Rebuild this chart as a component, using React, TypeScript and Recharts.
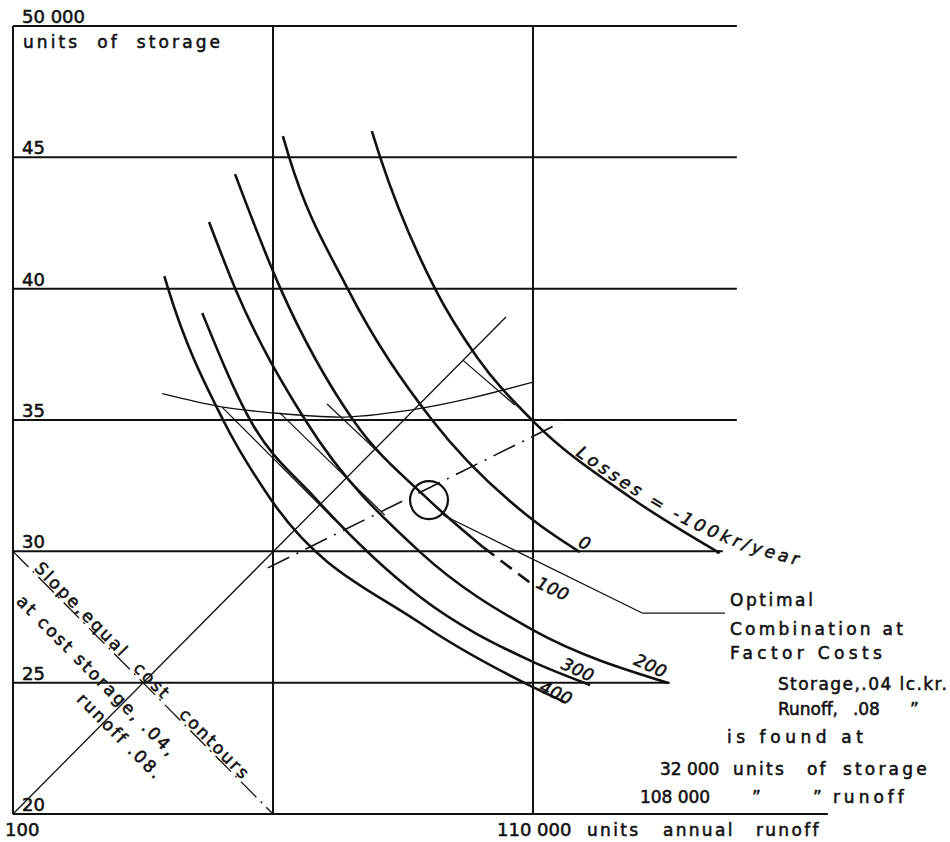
import React from "react";
import { LineChart, Line, XAxis, YAxis, ReferenceLine, ReferenceDot } from "recharts";

const W = 950;
const H = 842;
const M = { top: 26, right: 118, bottom: 28, left: 13 };
const FONT = '"DejaVu Sans", Verdana, sans-serif';
const INK = "#111";

// x: thousand units annual runoff, y: thousand units of storage
const lossMinus100 = [
  { x: 106.9, y: 46.0 }, { x: 107.06, y: 45.01 }, { x: 108.12, y: 39.98 }, { x: 108.92, y: 37.4 },
  { x: 110.0, y: 34.96 }, { x: 111.86, y: 32.07 }, { x: 113.56, y: 29.97 },
];
const loss0 = [
  { x: 105.19, y: 45.81 }, { x: 105.31, y: 45.01 }, { x: 106.43, y: 40.02 }, { x: 108.06, y: 35.0 },
  { x: 110.0, y: 31.19 }, { x: 110.9, y: 29.97 },
];
const loss100 = [
  { x: 104.27, y: 44.36 }, { x: 105.14, y: 40.02 }, { x: 106.54, y: 35.0 }, { x: 108.0, y: 31.95 },
  { x: 109.04, y: 30.16 },
];
const loss100Dashed = [{ x: 109.04, y: 30.16 }, { x: 110.0, y: 28.72 }];
const loss200 = [
  { x: 103.77, y: 42.54 }, { x: 104.27, y: 40.02 }, { x: 105.62, y: 35.0 }, { x: 107.83, y: 29.97 },
  { x: 110.0, y: 27.0 }, { x: 112.6, y: 24.99 },
];
const loss300 = [
  { x: 103.64, y: 39.07 }, { x: 104.56, y: 35.0 }, { x: 105.81, y: 32.03 }, { x: 107.83, y: 28.26 },
  { x: 110.0, y: 25.79 }, { x: 111.1, y: 24.91 },
];
const loss400 = [
  { x: 102.91, y: 40.48 }, { x: 102.98, y: 40.02 }, { x: 104.04, y: 35.0 }, { x: 104.94, y: 32.03 },
  { x: 107.83, y: 27.27 }, { x: 110.0, y: 24.83 }, { x: 110.61, y: 24.26 },
];
const thinArc = [
  { x: 102.87, y: 36.0 }, { x: 104.04, y: 35.49 }, { x: 105.0, y: 35.27 }, { x: 106.29, y: 35.11 },
  { x: 107.64, y: 35.38 }, { x: 110.0, y: 36.44 },
];

// straight construction lines
const diagonal = [{ x: 100, y: 20 }, { x: 109.48, y: 38.92 }];
const costSlope = [{ x: 100, y: 30 }, { x: 105, y: 20 }];
const expansionPath = [{ x: 104.9, y: 29.37 }, { x: 110.52, y: 34.89 }];
const tangents = [
  [{ x: 104.02, y: 35.49 }, { x: 106.19, y: 31.19 }],
  [{ x: 105.13, y: 35.27 }, { x: 107.15, y: 31.38 }],
  [{ x: 106.04, y: 35.61 }, { x: 108.0, y: 31.95 }],
  [{ x: 108.65, y: 37.28 }, { x: 109.65, y: 35.57 }],
];
const leader = [{ x: 108.27, y: 31.38 }, { x: 112.1, y: 27.65 }, { x: 113.69, y: 27.65 }];
const optimum = { x: 108.0, y: 31.95 };

// grid
const gridRows = [
  { y: 50, to: 113.92 }, { y: 45, to: 113.92 }, { y: 40, to: 113.92 }, { y: 35, to: 113.92 },
  { y: 30, to: 113.65 }, { y: 25, to: 112.63 }, { y: 20, to: 115.67 },
];
const gridCols = [100, 105, 110];
const yTicks = [20, 25, 30, 35, 40, 45, 50];
const yTickText = ["20", "25", "30", "35", "40", "45", "50 000"];
const xTicks = [100, 110];

// contour labels (anchor = start of baseline)
const contourLabels = [
  { text: "0", x: 110.85, y: 30.2 },
  { text: "100", x: 110.04, y: 28.64 },
  { text: "200", x: 111.92, y: 25.71 },
  { text: "300", x: 110.52, y: 25.56 },
  { text: "400", x: 110.1, y: 24.68 },
];

const txt = {
  fontFamily: FONT,
  fontSize: 17,
  fill: INK,
  stroke: INK,
  strokeWidth: 0.55,
  whiteSpace: "pre" as const,
};
const num = { ...txt, fontSize: 18 };
const spaced = { letterSpacing: 2.3 };

const YLabel = (label: string) => ({ cx, cy }: any) => (
  <text x={cx + 9} y={cy - 3} style={num}>
    {label}
  </text>
);

const XLabel = (v: number) => ({ cx, cy }: any) => {
  const y = cy + 22;
  if (v === 100) {
    return <text x={cx - 8} y={y} style={num}>100</text>;
  }
  return (
    <text y={y} style={txt}>
      <tspan x={cx - 36} style={{ fontSize: 18 }}>110 000</tspan>
      <tspan x={cx + 54} style={spaced}>units</tspan>
      <tspan x={cx + 130} style={spaced}>annual</tspan>
      <tspan x={cx + 223} style={spaced}>runoff</tspan>
    </text>
  );
};

const SlopeText = ({ cx, cy }: any) => (
  <g transform={`translate(${cx},${cy}) rotate(45.3)`} style={txt}>
    <text x={27} y={-2} style={spaced}>Slope,</text>
    <text x={94} y={-2} style={spaced}>equal</text>
    <text x={168} y={-2} style={spaced}>cost</text>
    <text x={233} y={-2} style={spaced}>contours</text>
    <text x={38} y={34} style={spaced}>at  cost  storage, .04,</text>
    <text x={150} y={60} style={spaced}>runoff  .08.</text>
  </g>
);

const LossesText = ({ cx, cy }: any) => (
  <g transform={`translate(${cx},${cy})`}>
    <defs>
      <path id="lossesPath" d="M0,0 C65,45 125,90 235,113" fill="none" />
    </defs>
    <text style={{ ...txt, fontStyle: "italic" }}>
      <textPath href="#lossesPath" textLength={250} lengthAdjust="spacing">
        Losses = -100kr/year
      </textPath>
    </text>
  </g>
);

const NoteText = ({ cx, cy }: any) => (
  <g transform={`translate(${cx},${cy})`} style={txt}>
    <text x={5} y={-7} textLength={83}>Optimal</text>
    <text x={5} y={22} textLength={173}>Combination  at</text>
    <text x={5} y={46} textLength={152}>Factor  Costs</text>
    <text x={53} y={77} textLength={169}>Storage,.04 lc.kr.</text>
    <text y={102}>
      <tspan x={53}>Runoff,</tspan>
      <tspan x={128}>.08</tspan>
      <tspan x={185}>{"\u201D"}</tspan>
    </text>
    <text x={2} y={130} textLength={136}>is  found  at</text>
    <text y={162}>
      <tspan x={-65}>32 000</tspan>
      <tspan x={8} style={spaced}>units</tspan>
      <tspan x={82} style={spaced}>of</tspan>
      <tspan x={118} style={{ letterSpacing: 3.2 }}>storage</tspan>
    </text>
    <text y={190}>
      <tspan x={-85}>108 000</tspan>
      <tspan x={27}>{"\u201D"}</tspan>
      <tspan x={88}>{"\u201D"}</tspan>
      <tspan x={108} style={{ letterSpacing: 4 }}>runoff</tspan>
    </text>
  </g>
);

const StorageTitle = ({ cx, cy }: any) => (
  <text x={cx + 10} y={cy + 22} style={txt} textLength={197}>
    units  of  storage
  </text>
);

const ContourLabel = (text: string) => ({ cx, cy }: any) => (
  <text
    transform={`translate(${cx},${cy}) rotate(25)`}
    style={{ ...txt, fontStyle: "italic", letterSpacing: 0.5 }}
  >
    {text}
  </text>
);

const thick = { stroke: INK, strokeWidth: 2.6, dot: false, isAnimationActive: false, type: "monotone" as const };

export default function App() {
  return (
    <div style={{ position: "absolute", left: 0, top: 0, width: W, height: H, background: "#fff" }}>
      <LineChart width={W} height={H} margin={M}>
        <XAxis type="number" dataKey="x" domain={[100, 115.75]} hide allowDataOverflow />
        <YAxis type="number" dataKey="y" domain={[20, 50]} hide allowDataOverflow />

        {gridRows.map((r) => (
          <ReferenceLine
            key={`r${r.y}`}
            segment={[{ x: 100, y: r.y }, { x: r.to, y: r.y }]}
            stroke={INK}
            strokeWidth={2}
            ifOverflow="visible"
          />
        ))}
        {gridCols.map((c) => (
          <ReferenceLine
            key={`c${c}`}
            segment={[{ x: c, y: 20 }, { x: c, y: 50 }]}
            stroke={INK}
            strokeWidth={2}
            ifOverflow="visible"
          />
        ))}

        <ReferenceLine segment={diagonal} stroke={INK} strokeWidth={1.3} ifOverflow="visible" />
        <ReferenceLine
          segment={costSlope}
          stroke={INK}
          strokeWidth={1.3}
          strokeDasharray="22 6 2 6"
          ifOverflow="visible"
        />
        <ReferenceLine
          segment={expansionPath}
          stroke={INK}
          strokeWidth={1.6}
          strokeDasharray="24 8 2 8"
          ifOverflow="visible"
        />
        {tangents.map((t, i) => (
          <ReferenceLine key={`t${i}`} segment={t} stroke={INK} strokeWidth={1.2} ifOverflow="visible" />
        ))}
        <ReferenceLine segment={[leader[0], leader[1]]} stroke={INK} strokeWidth={1.2} ifOverflow="visible" />
        <ReferenceLine segment={[leader[1], leader[2]]} stroke={INK} strokeWidth={1.2} ifOverflow="visible" />

        <Line data={thinArc} dataKey="y" {...thick} strokeWidth={1.3} />
        <Line data={lossMinus100} dataKey="y" {...thick} />
        <Line data={loss0} dataKey="y" {...thick} />
        <Line data={loss100} dataKey="y" {...thick} />
        <Line data={loss100Dashed} dataKey="y" {...thick} type="linear" strokeDasharray="14 8" />
        <Line data={loss200} dataKey="y" {...thick} />
        <Line data={loss300} dataKey="y" {...thick} />
        <Line data={loss400} dataKey="y" {...thick} />

        <ReferenceDot
          x={optimum.x}
          y={optimum.y}
          r={19}
          fill="none"
          stroke={INK}
          strokeWidth={2.2}
          ifOverflow="visible"
        />
        <ReferenceDot x={113.56} y={29.97} r={2} fill={INK} stroke="none" ifOverflow="visible" />

        {yTicks.map((v, i) => (
          <ReferenceDot key={`y${v}`} x={100} y={v} r={0} ifOverflow="visible" shape={YLabel(yTickText[i])} />
        ))}
        {xTicks.map((v) => (
          <ReferenceDot key={`x${v}`} x={v} y={20} r={0} ifOverflow="visible" shape={XLabel(v)} />
        ))}
        {contourLabels.map((l) => (
          <ReferenceDot key={l.text} x={l.x} y={l.y} r={0} ifOverflow="visible" shape={ContourLabel(l.text)} />
        ))}
        <ReferenceDot x={110.81} y={33.67} r={0} ifOverflow="visible" shape={LossesText} />
        <ReferenceDot x={100} y={30} r={0} ifOverflow="visible" shape={SlopeText} />
        <ReferenceDot x={leader[2].x} y={leader[2].y} r={0} ifOverflow="visible" shape={NoteText} />
        <ReferenceDot x={100} y={50} r={0} ifOverflow="visible" shape={StorageTitle} />
      </LineChart>
    </div>
  );
}
